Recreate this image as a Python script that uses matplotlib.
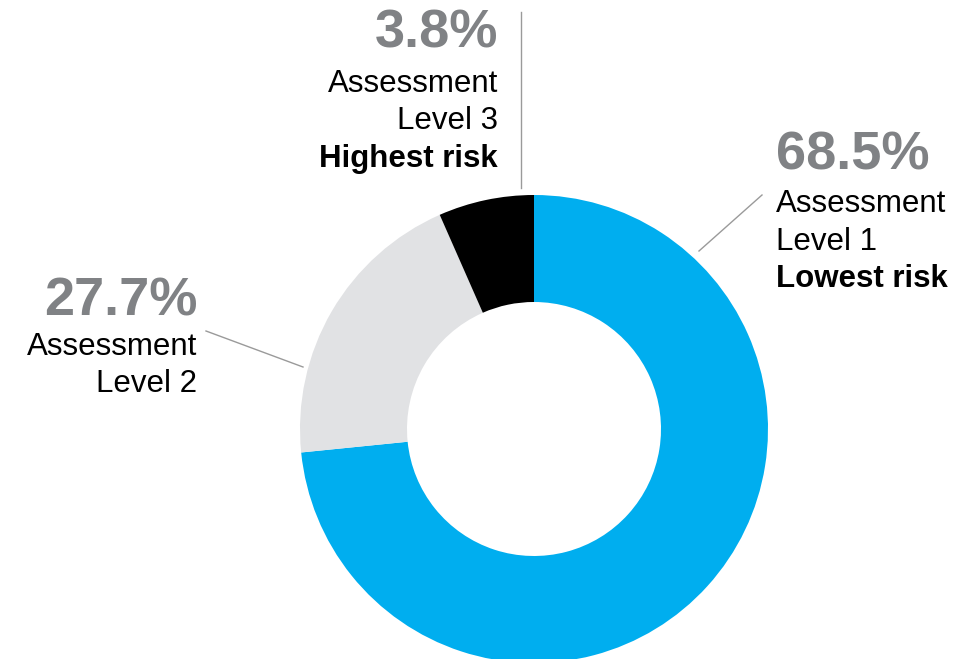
"""Donut chart of assessment levels with side labels."""
import matplotlib.pyplot as plt

plt.rcParams['font.family'] = ['Liberation Sans', 'DejaVu Sans']

# data
levels = ['Level 1', 'Level 2', 'Level 3']
pct_labels = ['68.5%', '27.7%', '3.8%']
risk_labels = ['Lowest risk', '', 'Highest risk']
# slice shares as drawn in the picture (clockwise from 12 o'clock)
drawn_shares = [73.4, 20.0, 6.6]
colors = ['#00AEEF', '#E1E2E4', '#000000']

W, H = 960, 659
GREY_TXT = '#808285'
LINE_C = '#9a9a9a'


def yy(y):
    """Convert image y (top down) to axes y (bottom up)."""
    return H - y


fig = plt.figure(figsize=(W / 100, H / 100), dpi=100)
ax = fig.add_axes([0, 0, 1, 1])

ax.pie(drawn_shares, colors=colors, startangle=90, counterclock=False,
       center=(534, yy(429)), radius=234,
       wedgeprops=dict(width=107, linewidth=0))

ax.set_xlim(0, W)
ax.set_ylim(0, H)
ax.set_aspect('equal')
ax.set_axis_off()

big = dict(fontsize=39, fontweight='bold', color=GREY_TXT, va='baseline')
body = dict(fontsize=22.5, color='black', va='baseline')
bold = dict(fontsize=22.5, fontweight='bold', color='black', va='baseline')


def label(x, ha, baselines, i):
    """Write one label block: percentage, name, level and risk line."""
    ax.text(x, yy(baselines[0]), pct_labels[i], ha=ha, **big)
    ax.text(x, yy(baselines[1]), 'Assessment', ha=ha, **body)
    ax.text(x, yy(baselines[2]), levels[i], ha=ha, **body)
    if risk_labels[i]:
        ax.text(x, yy(baselines[3]), risk_labels[i], ha=ha, **bold)


# Level 1 (right)
label(776, 'left', [170, 212, 250, 287], 0)
ax.plot([699, 762], [yy(251), yy(195)], color=LINE_C, lw=1)

# Level 2 (left)
label(197, 'right', [315, 355, 392], 1)
ax.plot([206, 303], [yy(331), yy(367)], color=LINE_C, lw=1)

# Level 3 (top)
label(498, 'right', [47, 92, 129, 167], 2)
ax.plot([521, 521], [yy(12), yy(188)], color=LINE_C, lw=1)

fig.savefig('out.png', dpi=100)
